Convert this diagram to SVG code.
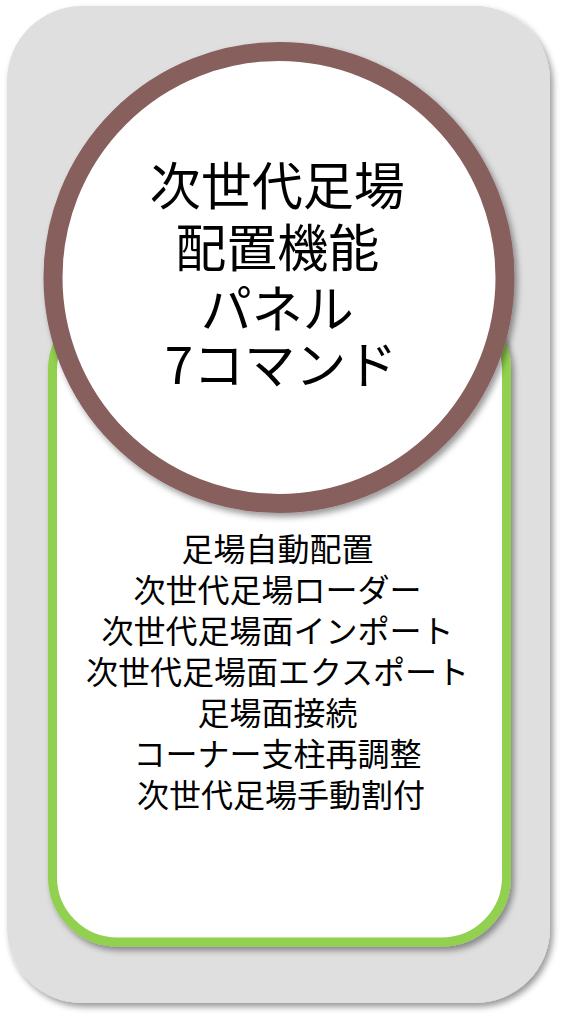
<svg xmlns="http://www.w3.org/2000/svg" width="571" height="1024" viewBox="0 0 571 1024">
  <defs>
    <filter id="shadow" x="-10%" y="-10%" width="130%" height="130%">
      <feDropShadow dx="3" dy="4" stdDeviation="3" flood-color="#000" flood-opacity="0.4"/>
    </filter>
  </defs>
  <style>
    .title { font-family: "Noto Sans CJK JP", "Noto Sans", sans-serif; font-size: 51px; fill: #000; text-anchor: middle; }
    .body { font-family: "Noto Sans CJK JP", "Noto Sans", sans-serif; font-size: 32px; fill: #000; text-anchor: middle; }
  </style>
  <rect width="571" height="1024" fill="#ffffff"/>
  <g id="panel">
    <rect x="7" y="6" width="543" height="997" rx="75" ry="75" fill="#dfdfdf" filter="url(#shadow)"/>
  </g>
  <g id="commands">
    <rect x="52.5" y="305" width="454" height="637" rx="65" ry="65" fill="#ffffff" stroke="#92d050" stroke-width="9" filter="url(#shadow)"/>
    <text class="body">
      <tspan x="281" y="561">足場自動配置</tspan>
      <tspan x="281" y="602">次世代足場ローダー</tspan>
      <tspan x="281" y="643">次世代足場面インポート</tspan>
      <tspan x="281" y="684">次世代足場面エクスポート</tspan>
      <tspan x="281" y="725">足場面接続</tspan>
      <tspan x="281" y="766">コーナー支柱再調整</tspan>
      <tspan x="281" y="807">次世代足場手動割付</tspan>
    </text>
  </g>
  <g id="title">
    <circle cx="279" cy="277.5" r="226" fill="#ffffff" stroke="#875e5c" stroke-width="19" filter="url(#shadow)"/>
    <text class="title">
      <tspan x="283" y="205">次世代足場</tspan>
      <tspan x="283" y="267">配置機能</tspan>
      <tspan x="283" y="328">パネル</tspan>
      <tspan x="281" y="384">7コマンド</tspan>
    </text>
  </g>
  <g id="connectors"></g>
</svg>
